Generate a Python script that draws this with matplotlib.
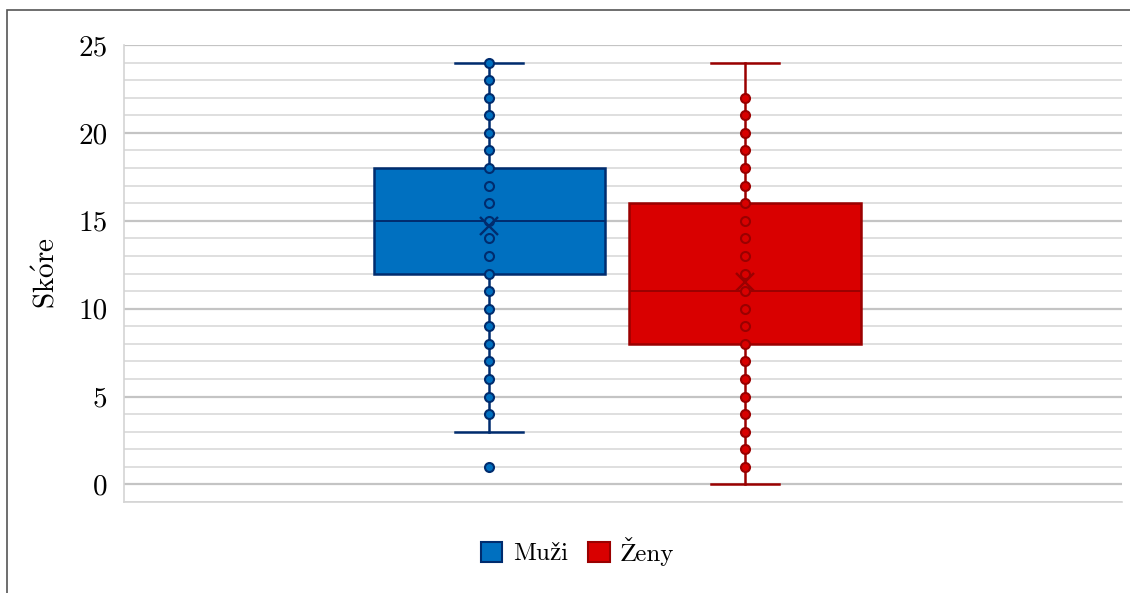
import matplotlib.pyplot as plt
from matplotlib.patches import Patch, Rectangle

plt.rcParams["mathtext.fontset"] = "cm"
plt.rcParams["font.family"] = ["cmr10", "STIXGeneral", "DejaVu Serif"]

# data
groups = ["Muži", "Ženy"]
positions = [0.366, 0.622]
whis_lo = [3, 0]
q1 = [12, 8]
median = [15, 11]
q3 = [18, 16]
whis_hi = [24, 24]
means = [14.7, 11.5]
muzi_points = [1, 4, 5, 6, 7, 8, 9, 10, 11, 12, 13, 14, 15, 16, 17, 18,
               19, 20, 21, 22, 23, 24]
zeny_points = [1, 2, 3, 4, 5, 6, 7, 8, 9, 10, 11, 12, 13, 14, 15, 16, 17,
               18, 19, 20, 21, 22]
points = [muzi_points, zeny_points]

fills = ["#0070C0", "#D90000"]
edges = ["#002C6E", "#9A0000"]

fig = plt.figure(figsize=(11.3, 5.93), dpi=100)
ax = fig.add_axes([124 / 1130, 1 - 502 / 593, 998 / 1130, 457 / 593])

for i in range(2):
    stats = [dict(whislo=whis_lo[i], q1=q1[i], med=median[i], q3=q3[i],
                  whishi=whis_hi[i], mean=means[i], fliers=[])]
    ax.bxp(stats, positions=[positions[i]], widths=0.232, patch_artist=True,
           showmeans=False, capwidths=0.068,
           boxprops=dict(facecolor=fills[i], edgecolor=edges[i], linewidth=1.8),
           whiskerprops=dict(color=edges[i], linewidth=1.8),
           capprops=dict(color=edges[i], linewidth=1.8),
           medianprops=dict(color=edges[i], linewidth=1.4),
           zorder=2)
    ax.scatter([positions[i]] * len(points[i]), points[i], s=42,
               facecolor=fills[i], edgecolor=edges[i], linewidth=1.5, zorder=3)
    # mean marker on top of the points
    ax.plot(positions[i], means[i], marker="x", markeredgecolor=edges[i],
            markersize=13, markeredgewidth=1.7, zorder=4)

ax.set_xlim(0, 1)
ax.set_ylim(-1, 25)
ax.set_yticks(range(0, 26, 5))
ax.set_yticks(range(-1, 26), minor=True)
ax.set_yticklabels([str(v) for v in range(0, 26, 5)], fontsize=21)
ax.set_xticks([])
ax.tick_params(axis="y", which="both", length=0, pad=12)
ax.grid(True, axis="y", which="minor", color="#dcdcdc", linewidth=1.3, zorder=0)
ax.grid(True, axis="y", which="major", color="#c4c4c4", linewidth=1.6, zorder=0)
ax.set_axisbelow(True)
for s in ["top", "right"]:
    ax.spines[s].set_visible(False)
for s in ["left", "bottom"]:
    ax.spines[s].set_color("#d4d4d4")
    ax.spines[s].set_linewidth(1.2)

ax.set_ylabel(r"$\mathrm{Sk\acute{o}re}$", fontsize=21, labelpad=13)

handles = [Patch(facecolor=fills[i], edgecolor=edges[i], linewidth=1.5)
           for i in range(2)]
fig.legend(handles, groups, loc="center", bbox_to_anchor=(0.511, 1 - 551 / 593),
           ncol=2, frameon=False, fontsize=18, handlelength=0.85, handleheight=0.85,
           handletextpad=0.45, columnspacing=0.8)

fig.patches.append(Rectangle((7 / 1130, -0.1), 1.1, 1.1 - 10 / 593,
                             transform=fig.transFigure, fill=False,
                             edgecolor="#555555", linewidth=1.2))

fig.savefig("out.png", dpi=100)
